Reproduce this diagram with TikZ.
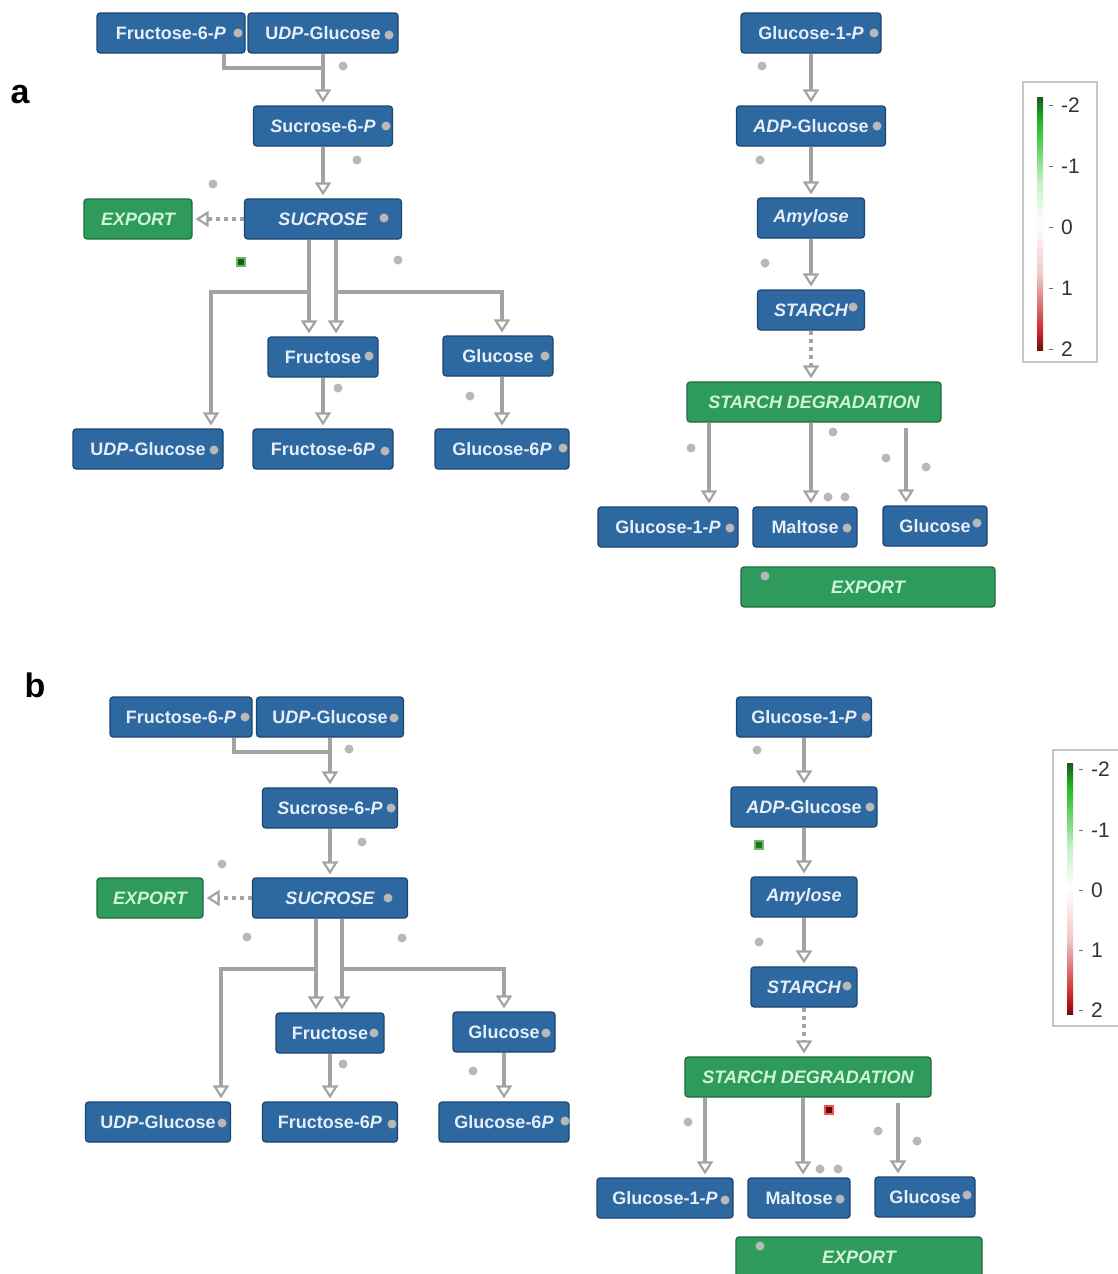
\documentclass[tikz,border=0pt]{standalone}
\usepackage{fontspec}
\setmainfont{Liberation Sans}
\usetikzlibrary{arrows.meta}
\definecolor{bfill}{HTML}{2D68A0}
\definecolor{bborder}{HTML}{1C4670}
\definecolor{btext}{HTML}{E6EEF8}
\definecolor{gfill}{HTML}{2E9B5C}
\definecolor{gborder}{HTML}{1D6B3E}
\definecolor{gtext}{HTML}{CFF5D6}
\definecolor{arrc}{HTML}{A3A3A3}
\definecolor{dotc}{HTML}{B8B8B8}
\definecolor{ldred}{HTML}{6B1010}
\definecolor{lred}{HTML}{C81E1E}
\definecolor{lpink}{HTML}{F2C8C8}
\definecolor{lgreen}{HTML}{22BB22}
\definecolor{llgreen}{HTML}{C8F0C8}
\definecolor{ldgreen}{HTML}{1A5A1A}
\definecolor{legc}{HTML}{333333}
\pgfdeclareverticalshading{legbar}{100bp}{color(0bp)=(ldred); color(25bp)=(ldred); color(28bp)=(lred); color(40bp)=(lpink); color(50bp)=(white); color(58bp)=(llgreen); color(70bp)=(lgreen); color(75bp)=(ldgreen); color(100bp)=(ldgreen)}
\tikzset{
  box/.style={rounded corners=3pt, line width=1.2pt, minimum height=40pt, inner sep=0pt, font=\fontsize{18}{20}\selectfont\bfseries},
  bnode/.style={box, draw=bborder, fill=bfill, text=btext},
  itbnode/.style={bnode, font=\fontsize{18}{20}\selectfont\bfseries\itshape},
  gnode/.style={box, draw=gborder, fill=gfill, text=gtext, font=\fontsize{18}{20}\selectfont\bfseries\itshape},
  line/.style={draw=arrc, line width=3.6pt},
  arr/.style={line, -{Triangle[open,length=13pt,width=16pt,line width=2.2pt]}, shorten >=3pt},
  dotarr/.style={arr, dash pattern=on 4pt off 4pt},
  panellabel/.style={font=\fontsize{34}{36}\selectfont\bfseries, text=black, inner sep=0pt},
  legnum/.style={font=\fontsize{21}{22}\selectfont, text=legc, inner sep=0pt, anchor=west},
  legbox/.style={draw=black!22, fill=white, line width=1.2pt},
}
\begin{document}
\begin{tikzpicture}[x=1pt,y=-1pt]
\useasboundingbox (0,0) rectangle (1117,1274);
\fill[white] (0,0) rectangle (1117,1274);

% ================= panel a =================
\node[panellabel] (la) at (20,95) {a};

\node[bnode, minimum width=148pt] (fa1) at (171,33) {Fructose-6-\textit{P}};
\node[bnode, minimum width=150pt] (ua1) at (323,33) {U\textit{DP}-Glucose};
\node[bnode, minimum width=139pt] (sa6) at (323,126) {\textit{S}ucrose-6-\textit{P}};
\node[itbnode, minimum width=157pt] (sua) at (323,219) {SUCROSE};
\node[gnode, minimum width=108pt] (exa1) at (138,219) {EXPORT};
\node[bnode, minimum width=110pt] (fra) at (323,357) {Fructose};
\node[bnode, minimum width=110pt] (gla) at (498,356) {Glucose};
\node[bnode, minimum width=150pt] (ua2) at (148,449) {U\textit{DP}-Glucose};
\node[bnode, minimum width=140pt] (f6a) at (323,449) {Fructose-6\textit{P}};
\node[bnode, minimum width=134pt] (g6a) at (502,449) {Glucose-6\textit{P}};

\node[bnode, minimum width=140pt] (g1a) at (811,33) {Glucose-1-\textit{P}};
\node[bnode, minimum width=149pt] (ada) at (811,126) {\textit{ADP}-Glucose};
\node[itbnode, minimum width=107pt] (ama) at (811,218) {Amylose};
\node[itbnode, minimum width=107pt] (sta) at (811,310) {STARCH};
\node[gnode, minimum width=254pt] (sda) at (814,402) {STARCH DEGRADATION};
\node[bnode, minimum width=140pt] (g1b_a) at (668,527) {Glucose-1-\textit{P}};
\node[bnode, minimum width=104pt] (maa) at (805,527) {Maltose};
\node[bnode, minimum width=104pt] (glr_a) at (935,526) {Glucose};
\node[gnode, minimum width=254pt] (exa2) at (868,587) {EXPORT};

\coordinate (jaL) at (224,68);
\coordinate (ja) at (323,68);
\draw[line] (fa1.south -| jaL) -- (jaL) -- (ja);
\draw[arr] (ua1.south) -- (sa6.north);
\draw[arr] (sa6.south) -- (sua.north);
\draw[dotarr] (sua.west) -- (exa1.east);
\coordinate (haL) at (309,292);
\coordinate (haR) at (336,292);
\coordinate (haLL) at (211,292);
\coordinate (haRR) at (502,292);
\draw[arr] (sua.south -| haL) -- (fra.north -| haL);
\draw[arr] (sua.south -| haR) -- (fra.north -| haR);
\draw[arr] (haL) -- (haLL) -- (ua2.north -| haLL);
\draw[arr] (haR) -- (haRR) -- (gla.north -| haRR);
\draw[arr] (fra.south) -- (f6a.north);
\draw[arr] (gla.south -| g6a.north) -- (g6a.north);

\draw[arr] (g1a.south) -- (ada.north);
\draw[arr] (ada.south) -- (ama.north);
\draw[arr] (ama.south) -- (sta.north);
\draw[dotarr] (sta.south) -- (sda.north -| sta.south);
\coordinate (daL) at (709,0);
\coordinate (daM) at (811,0);
\coordinate (daR) at (906,0);
\draw[arr] (sda.south -| daL) -- (g1b_a.north -| daL);
\draw[arr] (sda.south -| daM) -- (maa.north -| daM);
\draw[arr] ([yshift=-5pt]sda.south -| daR) -- (glr_a.north -| daR);

\foreach \x/\y in {238/33, 389/35, 343/66, 386/126, 357/160, 213/184, 384/218, 398/260, 369/356, 338/388, 545/356, 470/396, 214/450, 385/451, 563/448,
  874/33, 762/66, 877/126, 760/160, 765/263, 853/307, 691/448, 833/432, 886/458, 926/467, 828/497, 845/497, 730/528, 847/528, 977/523, 765/576}
  \fill[dotc] (\x,\y) circle (4.5pt);
\filldraw[fill=ldgreen, draw=green!55!black!60, line width=1.5pt] (237,258) rectangle (245,266);

% legend a
\draw[legbox] (1023,82) rectangle (1097,362);
\shade[shading=legbar] (1037,97) rectangle (1043,350);
\foreach \y/\t in {105/-2, 166/-1, 227/0, 288/1, 349/2} {
  \draw[legc!70, line width=1pt] (1049,\y) -- (1053,\y);
  \node[legnum] at (1061,\y) {\t};
}

% ================= panel b =================
\node[panellabel] (lb) at (35,685) {b};

\node[bnode, minimum width=142pt] (fb1) at (181,717) {Fructose-6-\textit{P}};
\node[bnode, minimum width=147pt] (ub1) at (330,717) {U\textit{DP}-Glucose};
\node[bnode, minimum width=135pt] (sb6) at (330,808) {\textit{S}ucrose-6-\textit{P}};
\node[itbnode, minimum width=155pt] (sub) at (330,898) {SUCROSE};
\node[gnode, minimum width=106pt] (exb1) at (150,898) {EXPORT};
\node[bnode, minimum width=108pt] (frb) at (330,1033) {Fructose};
\node[bnode, minimum width=102pt] (glb) at (504,1032) {Glucose};
\node[bnode, minimum width=145pt] (ub2) at (158,1122) {U\textit{DP}-Glucose};
\node[bnode, minimum width=135pt] (f6b) at (330,1122) {Fructose-6\textit{P}};
\node[bnode, minimum width=130pt] (g6b) at (504,1122) {Glucose-6\textit{P}};

\node[bnode, minimum width=135pt] (g1b) at (804,717) {Glucose-1-\textit{P}};
\node[bnode, minimum width=146pt] (adb) at (804,807) {\textit{ADP}-Glucose};
\node[itbnode, minimum width=106pt] (amb) at (804,897) {Amylose};
\node[itbnode, minimum width=106pt] (stb) at (804,987) {STARCH};
\node[gnode, minimum width=246pt] (sdb) at (808,1077) {STARCH DEGRADATION};
\node[bnode, minimum width=136pt] (g1b_b) at (665,1198) {Glucose-1-\textit{P}};
\node[bnode, minimum width=102pt] (mab) at (799,1198) {Maltose};
\node[bnode, minimum width=100pt] (glr_b) at (925,1197) {Glucose};
\node[gnode, minimum width=246pt] (exb2) at (859,1257) {EXPORT};

\coordinate (jbL) at (234,752);
\coordinate (jb) at (330,752);
\draw[line] (fb1.south -| jbL) -- (jbL) -- (jb);
\draw[arr] (ub1.south) -- (sb6.north);
\draw[arr] (sb6.south) -- (sub.north);
\draw[dotarr] (sub.west) -- (exb1.east);
\coordinate (hbL) at (316,969);
\coordinate (hbR) at (342,969);
\coordinate (hbLL) at (221,969);
\coordinate (hbRR) at (504,969);
\draw[arr] (sub.south -| hbL) -- (frb.north -| hbL);
\draw[arr] (sub.south -| hbR) -- (frb.north -| hbR);
\draw[arr] (hbL) -- (hbLL) -- (ub2.north -| hbLL);
\draw[arr] (hbR) -- (hbRR) -- (glb.north -| hbRR);
\draw[arr] (frb.south) -- (f6b.north);
\draw[arr] (glb.south) -- (g6b.north);

\draw[arr] (g1b.south) -- (adb.north);
\draw[arr] (adb.south) -- (amb.north);
\draw[arr] (amb.south) -- (stb.north);
\draw[dotarr] (stb.south) -- (sdb.north -| stb.south);
\coordinate (dbL) at (705,0);
\coordinate (dbM) at (803,0);
\coordinate (dbR) at (898,0);
\draw[arr] (sdb.south -| dbL) -- (g1b_b.north -| dbL);
\draw[arr] (sdb.south -| dbM) -- (mab.north -| dbM);
\draw[arr] ([yshift=-5pt]sdb.south -| dbR) -- (glr_b.north -| dbR);

\foreach \x/\y in {245/717, 394/718, 349/749, 391/808, 362/842, 222/864, 388/898, 247/937, 402/938, 374/1033, 343/1064, 546/1033, 473/1071, 222/1123, 392/1124, 565/1121,
  866/717, 757/750, 870/807, 759/942, 847/986, 688/1122, 878/1131, 917/1141, 820/1169, 838/1169, 725/1200, 840/1199, 967/1195, 760/1246}
  \fill[dotc] (\x,\y) circle (4.5pt);
\filldraw[fill=ldgreen!80!green, draw=green!45!black!55, line width=1.5pt] (755,841) rectangle (763,849);
\filldraw[fill=ldred!80!black, draw=red!70!white, line width=1.5pt] (825,1106) rectangle (833,1114);

% legend b
\draw[legbox] (1053,750) rectangle (1130,1026);
\shade[shading=legbar] (1067,763) rectangle (1073,1014);
\foreach \y/\t in {769/-2, 830/-1, 890/0, 950/1, 1010/2} {
  \draw[legc!70, line width=1pt] (1079,\y) -- (1083,\y);
  \node[legnum] at (1091,\y) {\t};
}
\end{tikzpicture}
\end{document}
